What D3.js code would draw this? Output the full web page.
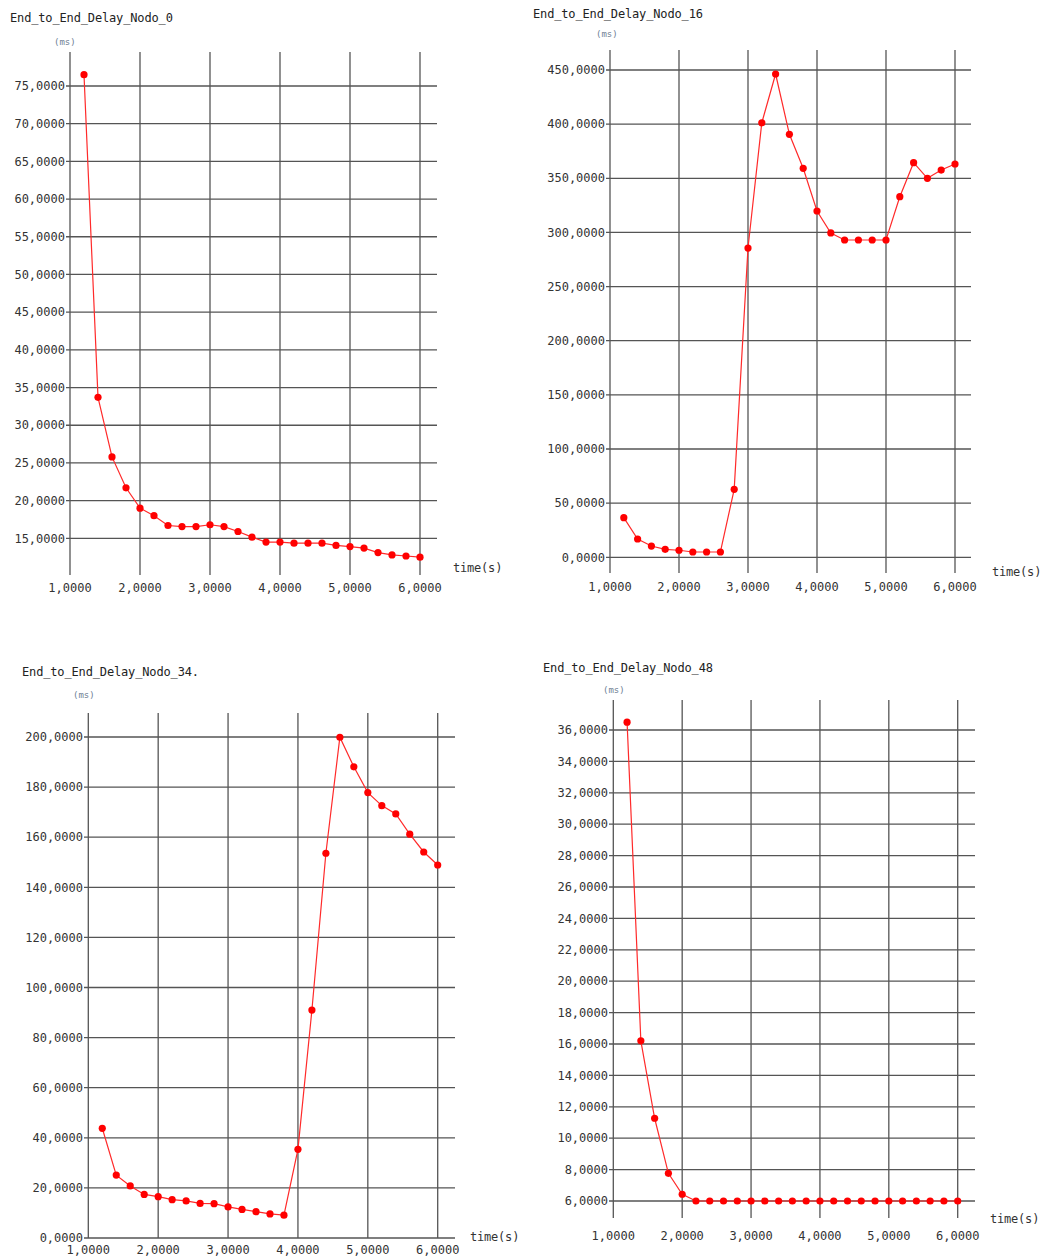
<!DOCTYPE html>
<html>
<head>
<meta charset="utf-8">
<script src="https://cdn.jsdelivr.net/npm/d3@7"></script>
<style>
  html, body { margin: 0; padding: 0; background: #fff; }
  svg { display: block; }
  text { font-family: "DejaVu Sans Mono", "Liberation Mono", monospace; }
</style>
</head>
<body>
<svg id="chart" width="1049" height="1260"></svg>
<script>
// Sample times (s), shared by every node
const times = [1.2, 1.4, 1.6, 1.8, 2.0, 2.2, 2.4, 2.6, 2.8, 3.0, 3.2, 3.4, 3.6,
               3.8, 4.0, 4.2, 4.4, 4.6, 4.8, 5.0, 5.2, 5.4, 5.6, 5.8, 6.0];

// End-to-end delay per node (ms)
const delayNodo0 = [76.5, 33.7, 25.8, 21.7, 19.0, 18.0, 16.7, 16.55, 16.55, 16.8, 16.55, 15.9, 15.15,
                    14.5, 14.5, 14.35, 14.35, 14.35, 14.05, 13.9, 13.7, 13.1, 12.8, 12.65, 12.5];
const delayNodo16 = [36.6, 16.9, 10.4, 7.4, 6.5, 4.9, 4.9, 4.9, 62.8, 285.6, 401.3, 446.3, 390.6,
                     359.2, 319.8, 299.5, 293.0, 293.0, 293.0, 293.0, 333.0, 364.4, 350.0, 357.6, 363.2];
const delayNodo34 = [43.8, 25.1, 20.8, 17.4, 16.5, 15.3, 14.8, 13.8, 13.7, 12.4, 11.4, 10.5, 9.6,
                     9.1, 35.4, 91.0, 153.6, 199.9, 188.1, 177.8, 172.6, 169.3, 161.2, 154.1, 148.9];
const delayNodo48 = [36.5, 16.2, 11.27, 7.76, 6.43, 6.0, 6.0, 6.0, 6.0, 6.0, 6.0, 6.0, 6.0,
                     6.0, 6.0, 6.0, 6.0, 6.0, 6.0, 6.0, 6.0, 6.0, 6.0, 6.0, 6.0];

// Tick labels
const xTicks = [1, 2, 3, 4, 5, 6];
const yTicksNodo0 = d3.range(15, 76, 5);
const yTicksNodo16 = d3.range(0, 451, 50);
const yTicksNodo34 = d3.range(0, 201, 20);
const yTicksNodo48 = d3.range(6, 37, 2);

const titles = ["End_to_End_Delay_Nodo_0", "End_to_End_Delay_Nodo_16",
                "End_to_End_Delay_Nodo_34.", "End_to_End_Delay_Nodo_48"];

// Layout of each panel (pixel boxes)
const panels = [
  { title: titles[0], values: delayNodo0, yTicks: yTicksNodo0,
    x0: 70, x1: 420, yDom: [15, 75], yRng: [538.3, 86],
    gridTop: 52, gridBottom: 575, hLeft: 66, hRight: 437,
    titleX: 10, titleY: 22, unitX: 54, unitY: 45, xLabY: 592, timeX: 453, timeY: 572 },
  { title: titles[1], values: delayNodo16, yTicks: yTicksNodo16,
    x0: 610, x1: 955, yDom: [0, 450], yRng: [557.3, 70],
    gridTop: 50, gridBottom: 573, hLeft: 606, hRight: 971,
    titleX: 533, titleY: 18, unitX: 596, unitY: 37, xLabY: 591, timeX: 992, timeY: 576 },
  { title: titles[2], values: delayNodo34, yTicks: yTicksNodo34,
    x0: 88.3, x1: 437.7, yDom: [0, 200], yRng: [1238, 737],
    gridTop: 713, gridBottom: 1238, hLeft: 84, hRight: 455,
    titleX: 22, titleY: 676, unitX: 73, unitY: 698, xLabY: 1254, timeX: 470, timeY: 1241 },
  { title: titles[3], values: delayNodo48, yTicks: yTicksNodo48,
    x0: 613.3, x1: 957.7, yDom: [6, 36], yRng: [1201, 730],
    gridTop: 700, gridBottom: 1218, hLeft: 609, hRight: 975,
    titleX: 543, titleY: 672, unitX: 603, unitY: 693, xLabY: 1240, timeX: 990, timeY: 1223 }
];

const fmt = v => d3.format(".4f")(v).replace(".", ",");
const svg = d3.select("#chart");

panels.forEach(p => {
  const g = svg.append("g");
  const x = d3.scaleLinear().domain([1, 6]).range([p.x0, p.x1]);
  const y = d3.scaleLinear().domain(p.yDom).range(p.yRng);

  // Grid: horizontal lines at y ticks, vertical lines at x ticks
  g.append("g").selectAll("line.h").data(p.yTicks).join("line")
    .attr("x1", p.hLeft).attr("x2", p.hRight)
    .attr("y1", d => y(d)).attr("y2", d => y(d))
    .attr("stroke", "#555").attr("stroke-width", 1.3);
  g.append("g").selectAll("line.v").data(xTicks).join("line")
    .attr("x1", d => x(d)).attr("x2", d => x(d))
    .attr("y1", p.gridTop).attr("y2", p.gridBottom)
    .attr("stroke", "#555").attr("stroke-width", 1.3);

  // Y tick labels
  g.append("g").selectAll("text").data(p.yTicks).join("text")
    .attr("x", p.hLeft - 1).attr("y", d => y(d))
    .attr("dy", "0.35em").attr("text-anchor", "end")
    .attr("font-size", 12).attr("fill", "#333")
    .text(fmt);

  // X tick labels
  g.append("g").selectAll("text").data(xTicks).join("text")
    .attr("x", d => x(d)).attr("y", p.xLabY)
    .attr("text-anchor", "middle")
    .attr("font-size", 12).attr("fill", "#333")
    .text(fmt);

  // Titles and axis names
  g.append("text").attr("x", p.titleX).attr("y", p.titleY)
    .attr("font-size", 12).attr("letter-spacing", -0.15).attr("fill", "#222")
    .text(p.title);
  g.append("text").attr("x", p.unitX).attr("y", p.unitY)
    .attr("font-size", 9).attr("fill", "#6f7f95")
    .text("(ms)");
  g.append("text").attr("x", p.timeX).attr("y", p.timeY)
    .attr("font-size", 12).attr("letter-spacing", -0.2).attr("fill", "#333")
    .text("time(s)");

  // Series line and markers
  const pts = times.map((t, i) => [t, p.values[i]]);
  g.append("path").datum(pts)
    .attr("fill", "none").attr("stroke", "#ff2a2a").attr("stroke-width", 1.2)
    .attr("d", d3.line().x(d => x(d[0])).y(d => y(d[1])));
  g.append("g").selectAll("circle").data(pts).join("circle")
    .attr("cx", d => x(d[0])).attr("cy", d => y(d[1]))
    .attr("r", 3.6).attr("fill", "#ff0000");
});
</script>
</body>
</html>
